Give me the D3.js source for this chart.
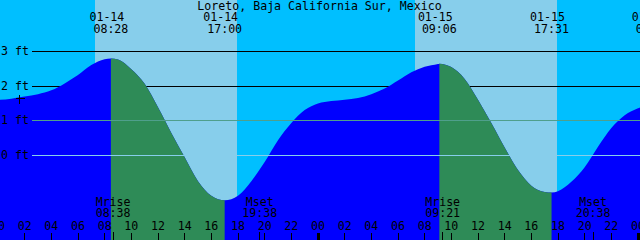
<!DOCTYPE html>
<html><head><meta charset="utf-8">
<script src="https://cdn.jsdelivr.net/npm/d3@7"></script>
<style>html,body{margin:0;padding:0;background:#00bfff;overflow:hidden}svg{display:block}</style>
</head><body><svg id="c" width="640" height="240"></svg>
<script>
// ---- data ----
const title = "Loreto, Baja California Sur, Mexico";
const curveHours = [0,1,2,3,4,5,6,7,8,8.467,9,10,11,12,13,14,15,16,17,18,19,20,21,22,23,24,25,26,27,28,29,30,31,32,33,33.1,34,35,36,37,38,39,40,41,41.517,42,43,44,45,46,47,48,49];
const curveFeet  = [1.60,1.64,1.70,1.77,1.88,2.08,2.32,2.61,2.78,2.80,2.77,2.49,2.07,1.39,0.65,-0.05,-0.74,-1.16,-1.29,-1.16,-0.74,-0.19,0.44,0.94,1.31,1.50,1.57,1.61,1.66,1.77,1.93,2.16,2.40,2.56,2.64,2.65,2.55,2.21,1.61,0.94,0.23,-0.42,-0.87,-1.05,-1.07,-1.03,-0.76,-0.34,0.25,0.79,1.16,1.36,1.50];
const tideDates = ["01-14","01-14","01-15","01-15","01-16"];
const tideTimes = ["08:28","17:00","09:06","17:31","01:08"];
const tideKinds = ["high","low","high","low","high"];
const moonEvents = ["Mrise","Mset","Mrise","Mset"];
const moonDates  = ["01-14","01-14","01-15","01-15"];
const moonTimes  = ["08:38","19:38","09:21","20:38"];
const sunDates    = ["01-14","01-15"];
const sunrises    = ["07:17","07:17"];
const sunsets     = ["17:56","17:56"];
const levelTicks  = [0,1,2,3];
const levelLabels = ["0 ft","1 ft","2 ft","3 ft"];
const hourTicks   = [0,2,4,6,8,10,12,14,16,18,20,22,24,26,28,30,32,34,36,38,40,42,44,46,48];
const hourLabels  = ["00","02","04","06","08","10","12","14","16","18","20","22","00","02","04","06","08","10","12","14","16","18","20","22","00"];
const markHours = [1.6];
const markFeet  = [1.66];

// ---- helpers ----
const FONT = "DejaVu Sans Mono, monospace";
const FS = "11.6px";
function hoursOf(date, time){
  const day = +date.slice(3) - 14;
  const [hh, mm] = time.split(":").map(Number);
  return day*24 + hh + mm/60;
}

const W = 640, H = 240;
const svg = d3.select("#c");
const x = d3.scaleLinear().domain([0,48]).range([-2,638]);
const y = d3.scaleLinear().domain([0,3]).range([155.5,51.5]);
const crisp = v => Math.round(v - 0.5) + 0.5;

// background night
svg.append("rect").attr("x",0).attr("y",0).attr("width",W).attr("height",H).attr("fill","#00bfff");
// day
svg.selectAll("rect.day").data(sunDates).enter().append("rect")
  .attr("class","day").attr("shape-rendering","crispEdges")
  .attr("x",(d,i)=>Math.round(x(hoursOf(d,sunrises[i]))))
  .attr("width",(d,i)=>Math.round(x(hoursOf(d,sunsets[i]))) - Math.round(x(hoursOf(d,sunrises[i]))))
  .attr("y",0).attr("height",H).attr("fill","#87ceeb");

// black level lines (under water)
svg.selectAll("line.lvl").data(levelTicks.filter(v=>v>=2)).enter().append("line")
  .attr("x1",32).attr("x2",W).attr("y1",d=>crisp(y(d))).attr("y2",d=>crisp(y(d)))
  .attr("stroke","#000").attr("stroke-width",1).attr("shape-rendering","crispEdges");

// water
const pts = curveHours.map((h,i)=>[h,curveFeet[i]]);
const area = d3.area().x(d=>x(d[0])).y0(H).y1(d=>y(d[1])).curve(d3.curveMonotoneX);
svg.append("path").datum(pts).attr("d",area).attr("fill","#0000ff");
// ebb (falling) segments: from each high to following low
const ev = tideDates.map((d,i)=>({h:hoursOf(d,tideTimes[i]),k:tideKinds[i]}));
const defs = svg.append("defs");
ev.forEach((e,i)=>{
  if(e.k==="high" && ev[i+1]){
    const id="ebb"+i;
    defs.append("clipPath").attr("id",id).append("rect")
      .attr("x",x(e.h)).attr("width",x(ev[i+1].h)-x(e.h)).attr("y",0).attr("height",H);
    svg.append("path").datum(pts).attr("d",area).attr("fill","#2e8b57").attr("clip-path",`url(#${id})`);
  }
});

// coloured level lines (over water)
const lineColors = {0:"#87ceeb",1:"#4f9f8c"};
svg.selectAll("line.lvl2").data(levelTicks.filter(v=>v<2)).enter().append("line")
  .attr("x1",32).attr("x2",W).attr("y1",d=>crisp(y(d))).attr("y2",d=>crisp(y(d)))
  .attr("stroke",d=>lineColors[d]).attr("stroke-width",1).attr("shape-rendering","crispEdges");

// level labels
svg.selectAll("text.lvl").data(levelTicks).enter().append("text")
  .attr("x",1).attr("y",d=>crisp(y(d))+3.6)
  .attr("font-family",FONT).attr("font-size",FS).attr("fill","#000")
  .text((d,i)=>levelLabels[i]);

// mark "+"
markHours.forEach((h,i)=>{
  const cx = Math.round(x(h))+0.5, cy = Math.round(y(markFeet[i]))+0.5;
  svg.append("line").attr("x1",cx-4).attr("x2",cx+5).attr("y1",cy).attr("y2",cy).attr("stroke","#000").attr("shape-rendering","crispEdges");
  svg.append("line").attr("x1",cx).attr("x2",cx).attr("y1",cy-4).attr("y2",cy+5).attr("stroke","#000").attr("shape-rendering","crispEdges");
});

// title
svg.append("text").attr("x",319.5).attr("y",9.5).attr("text-anchor","middle")
  .attr("font-family",FONT).attr("font-size",FS).attr("fill","#000").text(title);

// tide labels
tideDates.forEach((d,i)=>{
  const cx = x(hoursOf(d,tideTimes[i]));
  svg.append("text").attr("x",cx-4).attr("y",21).attr("text-anchor","middle")
    .attr("font-family",FONT).attr("font-size",FS).attr("fill","#000").text(d);
  svg.append("text").attr("x",cx).attr("y",33.2).attr("text-anchor","middle")
    .attr("font-family",FONT).attr("font-size",FS).attr("fill","#000").text(tideTimes[i]);
});

// moon labels and ticks
moonEvents.forEach((m,i)=>{
  const cx = x(hoursOf(moonDates[i],moonTimes[i]));
  svg.append("text").attr("x",cx).attr("y",205.5).attr("text-anchor","middle")
    .attr("font-family",FONT).attr("font-size",FS).attr("fill","#000").text(m);
  svg.append("text").attr("x",cx).attr("y",217.3).attr("text-anchor","middle")
    .attr("font-family",FONT).attr("font-size",FS).attr("fill","#000").text(moonTimes[i]);
  svg.append("rect").attr("x",Math.floor(cx)).attr("y",232).attr("width",1).attr("height",8)
    .attr("fill","#000").attr("shape-rendering","crispEdges");
});

// hour ticks
hourTicks.forEach((h,i)=>{
  const cx = x(h);
  const mid = hourLabels[i]==="00";
  svg.append("rect").attr("x",Math.floor(cx)-(mid?1:0)).attr("y",233).attr("width",mid?3:1).attr("height",7)
    .attr("fill","#000").attr("shape-rendering","crispEdges");
  svg.append("text").attr("x",cx).attr("y",230).attr("text-anchor","middle")
    .attr("font-family",FONT).attr("font-size",FS).attr("fill","#000").text(hourLabels[i]);
});
</script></body></html>
